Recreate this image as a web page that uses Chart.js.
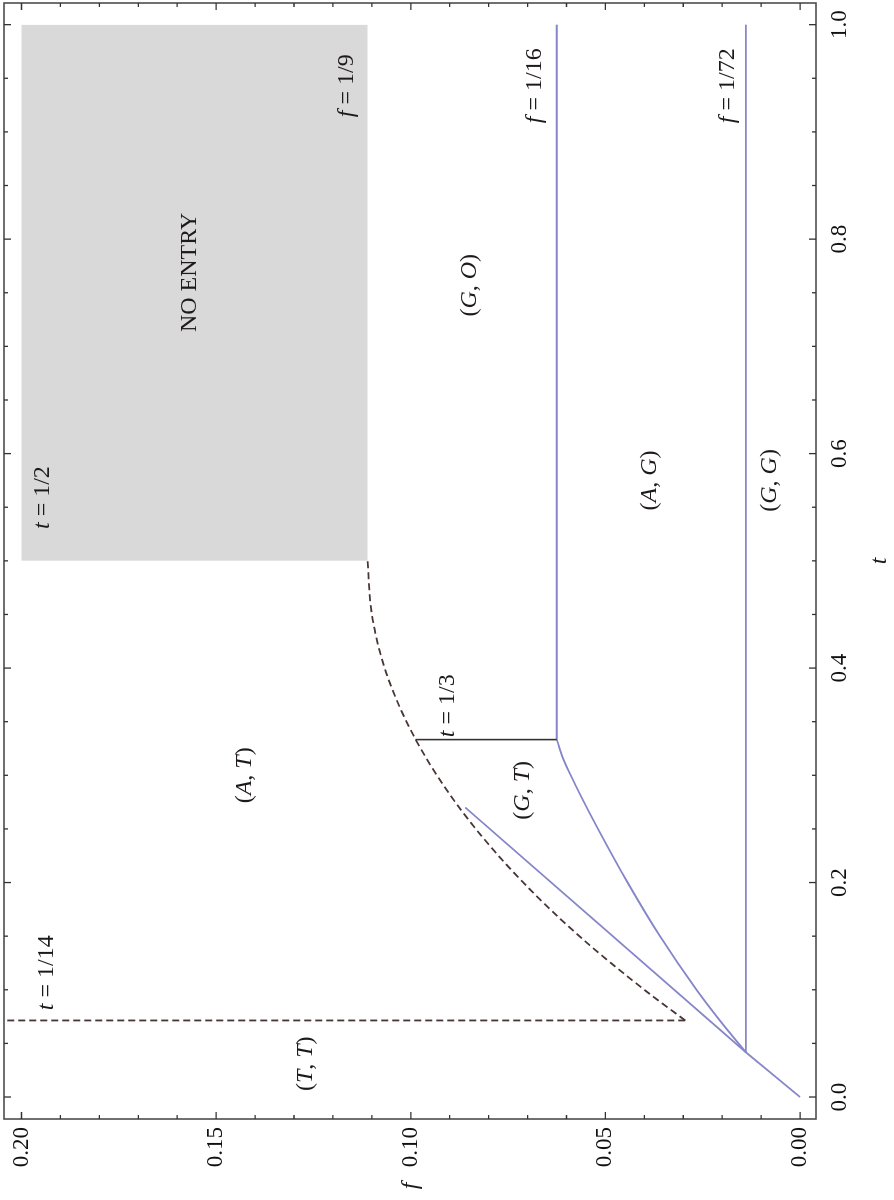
<!DOCTYPE html>
<html><head><meta charset="utf-8">
<script src="https://cdn.jsdelivr.net/npm/chart.js@4.4.1/dist/chart.umd.min.js"></script>
<style>
html,body{margin:0;padding:0;background:#fff;overflow:hidden;}
#wrap{position:absolute;left:0;top:0;width:1200px;height:894px;transform-origin:0 0;transform:translateY(1200px) rotate(-90deg);}
</style></head><body>
<div id="wrap"><canvas id="c" width="1200" height="894"></canvas></div>
<script>
// ---- data ----
const tTickValues = [0, 0.2, 0.4, 0.6, 0.8, 1.0];
const tTickLabels = ["0.0", "0.2", "0.4", "0.6", "0.8", "1.0"];
const fTickValues = [0, 0.05, 0.10, 0.15, 0.20];
const fTickLabels = ["0.00", "0.05", "0.10", "0.15", "0.20"];

const noEntryT = [0.5, 1.0];
const noEntryBottomF = [0.1111, 0.1111];
const noEntryTopF = [0.2, 0.2];

const dashBoundaryT = [0.0714, 0.10, 0.15, 0.20, 0.25, 0.30, 0.35, 0.40, 0.45, 0.50];
const dashBoundaryF = [0.0295, 0.0400, 0.0567, 0.0711, 0.0833, 0.0933, 0.1011, 0.1067, 0.1100, 0.1111];

const dashVertT = [0.0714, 0.0714];
const dashVertF = [0.0295, 0.2045];

const thirdLineT = [0.3333, 0.3333];
const thirdLineF = [0.0625, 0.0988];

const blueOriginT = [0, 0.0417];
const blueOriginF = [0, 0.0139];
const blueStraightT = [0.0417, 0.27];
const blueStraightF = [0.0139, 0.0860];
const blueCurveT = [0.0417, 0.07, 0.10, 0.15, 0.20, 0.25, 0.28, 0.30, 0.315, 0.3333];
const blueCurveF = [0.0139, 0.0203, 0.0266, 0.0360, 0.0443, 0.0519, 0.0562, 0.0589, 0.0608, 0.0625];
const blue16T = [0.3333, 1.0];
const blue16F = [0.0625, 0.0625];
const blue72T = [0.0417, 1.0];
const blue72F = [0.0139, 0.0139];

const labelTexts = ["t = 1/14", "(T, T)", "(A, T)", "(G, T)", "t = 1/3", "(A, G)", "(G, G)", "(G, O)", "t = 1/2", "NO ENTRY", "f = 1/9", "f = 1/16", "f = 1/72"];

// ---- layout (positions/styles) ----
const labelLayout = [
  {t:0.081, f:0.1935, align:'left'},
  {t:0.031, f:0.127, align:'center'},
  {t:0.300, f:0.1426, align:'center'},
  {t:0.286, f:0.0712, align:'center'},
  {t:0.3356, f:0.0905, align:'left'},
  {t:0.575, f:0.0385, align:'center'},
  {t:0.575, f:0.0077, align:'center'},
  {t:0.757, f:0.0848, align:'center'},
  {t:0.559, f:0.1945, align:'center'},
  {t:0.769, f:0.1568, align:'center', upright:true},
  {t:0.943, f:0.1164, align:'center'},
  {t:0.943, f:0.0681, align:'center'},
  {t:0.943, f:0.0185, align:'center'}
];

const BLUE = '#8585c9';
const DASH = '#4a3535';
const SERIF = '"Liberation Serif", "DejaVu Serif", serif';

function pts(ts, fs){ return ts.map((t,i)=>({x:t, y:fs[i]})); }

const lineDs = (label, ts, fs, color, width, extra) => Object.assign({
  label, data: pts(ts, fs), showLine:true, pointRadius:0, borderColor:color,
  borderWidth:width, fill:false, tension:0
}, extra||{});

const datasets = [
  lineDs('noentryBottom', noEntryT, noEntryBottomF, 'rgba(0,0,0,0)', 0, {fill:'+1', backgroundColor:'#d9d9d9'}),
  lineDs('noentryTop', noEntryT, noEntryTopF, 'rgba(0,0,0,0)', 0),
  lineDs('boundary', dashBoundaryT, dashBoundaryF, DASH, 1.8, {borderDash:[7,4], cubicInterpolationMode:'monotone'}),
  lineDs('t114', dashVertT, dashVertF, DASH, 1.8, {borderDash:[7,4]}),
  lineDs('t13', thirdLineT, thirdLineF, '#333333', 1.6),
  lineDs('blue0', blueOriginT, blueOriginF, BLUE, 1.8),
  lineDs('blueS', blueStraightT, blueStraightF, BLUE, 1.8),
  lineDs('blueC', blueCurveT, blueCurveF, BLUE, 1.8, {cubicInterpolationMode:'monotone'}),
  lineDs('blue16', blue16T, blue16F, BLUE, 1.8),
  lineDs('blue72', blue72T, blue72F, BLUE, 1.8)
];

function drawRich(ctx, text, x, y, align, upright, size){
  const runs = [];
  for (const ch of text){
    const it = !upright && /[A-Za-z]/.test(ch);
    if (runs.length && runs[runs.length-1].it === it) runs[runs.length-1].s += ch;
    else runs.push({s:ch, it});
  }
  let total = 0;
  runs.forEach(r => { ctx.font = (r.it?'italic ':'') + size + 'px ' + SERIF; r.w = ctx.measureText(r.s).width; total += r.w; });
  let cx = align === 'center' ? x - total/2 : (align === 'right' ? x - total : x);
  ctx.textBaseline = 'middle'; ctx.textAlign = 'left';
  runs.forEach(r => { ctx.font = (r.it?'italic ':'') + size + 'px ' + SERIF; ctx.fillText(r.s, cx, y); cx += r.w; });
}

const framePlugin = {
  id: 'frame',
  afterDraw(chart){
    const {ctx, chartArea:a, scales:{x, y}} = chart;
    ctx.save();
    ctx.strokeStyle = '#4d4d4d'; ctx.lineWidth = 1.6;
    ctx.strokeRect(a.left, a.top, a.right - a.left, a.bottom - a.top);
    ctx.lineWidth = 1.3; ctx.strokeStyle = '#333';
    for (let k = 0; k <= 20; k++){
      const v = k*0.05, px = x.getPixelForValue(v), len = (k%4===0) ? 7 : 4;
      ctx.beginPath();
      ctx.moveTo(px, a.bottom); ctx.lineTo(px, a.bottom - len);
      ctx.moveTo(px, a.top); ctx.lineTo(px, a.top + len);
      ctx.stroke();
    }
    for (let k = 0; k <= 20; k++){
      const v = k*0.01, py = y.getPixelForValue(v), len = (k%5===0) ? 7 : 4;
      ctx.beginPath();
      ctx.moveTo(a.left, py); ctx.lineTo(a.left + len, py);
      ctx.moveTo(a.right, py); ctx.lineTo(a.right - len, py);
      ctx.stroke();
    }
    ctx.fillStyle = '#1e1a1a';
    labelTexts.forEach((txt, i) => {
      const L = labelLayout[i];
      drawRich(ctx, txt, x.getPixelForValue(L.t), y.getPixelForValue(L.f), L.align, L.upright, 24);
    });
    drawRich(ctx, 't', x.getPixelForValue(0.5), a.bottom + 64, 'center', false, 24);
    drawRich(ctx, 'f', 14, y.getPixelForValue(0.10), 'center', false, 24);
    ctx.restore();
  }
};

function noPad(s){ s.paddingTop = 0; s.paddingBottom = 0; s.paddingLeft = 0; s.paddingRight = 0; }

new Chart(document.getElementById('c'), {
  type: 'scatter',
  data: { datasets },
  options: {
    responsive: false,
    animation: false,
    devicePixelRatio: 1,
    layout: { padding: { left: 0, top: 4, right: 3, bottom: 0 } },
    plugins: { legend: { display: false }, tooltip: { enabled: false } },
    scales: {
      x: {
        type: 'linear', min: -0.0205, max: 1.0202,
        grid: { display: false, drawTicks: false }, border: { display: false },
        afterBuildTicks: s => { s.ticks = tTickValues.map(v => ({value: v})); },
        afterFit: s => { s.height = 78; noPad(s); },
        ticks: { padding: 10, color: '#111', font: { family: SERIF, size: 23 },
          callback: (v) => { const i = tTickValues.findIndex(t => Math.abs(t - v) < 1e-9); return i >= 0 ? tTickLabels[i] : ''; } }
      },
      y: {
        type: 'linear', min: -0.0041, max: 0.2045,
        grid: { display: false, drawTicks: false }, border: { display: false },
        afterBuildTicks: s => { s.ticks = fTickValues.map(v => ({value: v})); },
        afterFit: s => { s.width = 81; noPad(s); },
        ticks: { padding: 8, color: '#111', font: { family: SERIF, size: 23 },
          callback: (v) => { const i = fTickValues.findIndex(t => Math.abs(t - v) < 1e-9); return i >= 0 ? fTickLabels[i] : ''; } }
      }
    }
  },
  plugins: [framePlugin]
});
</script>
</body></html>
